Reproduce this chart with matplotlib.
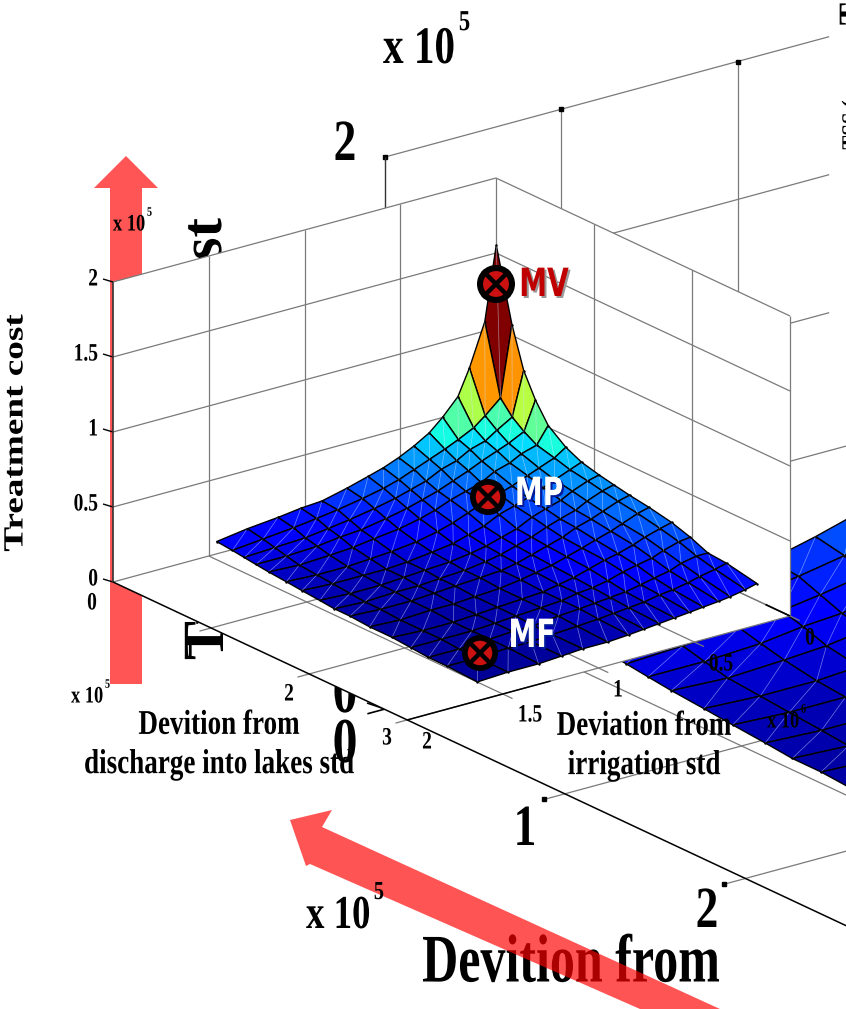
import numpy as np
import matplotlib
matplotlib.use('Agg')
import matplotlib.pyplot as plt
from matplotlib.collections import PolyCollection, LineCollection
from matplotlib.colors import to_rgb
from matplotlib.patches import Polygon, Circle
from matplotlib.transforms import Affine2D
import matplotlib.patheffects as pe

# Surface data: irrigation std deviation (x 10^5), discharge deviation (x 10^5), cost (x 10^5)
irrigation_nodes = [.06, .12, .20, .26, .34, .41, .49, .57, .65, .73, .84, .97, 1.08, 1.20, 1.36, 1.52]
discharge_nodes = [.12, .28, .40, .52, .65, .83, .99, 1.17, 1.32, 1.48, 1.68, 1.91, 2.10, 2.28, 2.47, 2.78]
cost = [
    [1.61, 1.13, .86, .70, .57, .48, .43, .40, .38, .36, .34, .31, .27, .22, .21, .17],
    [1.12, .66, .57, .51, .46, .43, .40, .38, .36, .34, .32, .29, .26, .22, .19, .15],
    [.84, .57, .51, .46, .43, .39, .36, .34, .32, .30, .28, .26, .23, .20, .17, .13],
    [.67, .51, .46, .43, .39, .36, .33, .30, .28, .27, .25, .23, .20, .17, .15, .12],
    [.56, .46, .43, .39, .36, .32, .29, .27, .25, .24, .22, .20, .18, .15, .13, .11],
    [.48, .42, .38, .35, .31, .29, .26, .24, .22, .20, .19, .18, .16, .13, .12, .10],
    [.42, .38, .35, .31, .28, .26, .23, .19, .18, .17, .16, .15, .13, .11, .10, .09],
    [.37, .34, .30, .27, .25, .22, .18, .16, .15, .14, .13, .12, .11, .10, .09, .08],
    [.33, .30, .27, .24, .21, .18, .15, .13, .12, .11, .11, .10, .10, .09, .08, .07],
    [.30, .27, .24, .21, .18, .15, .12, .11, .10, .09, .09, .08, .08, .08, .07, .06],
    [.26, .24, .21, .18, .15, .12, .10, .09, .08, .08, .07, .07, .07, .07, .06, .05],
    [.22, .21, .18, .15, .13, .10, .08, .08, .07, .07, .06, .06, .06, .05, .05, .05],
    [.21, .19, .16, .14, .11, .09, .07, .07, .06, .06, .05, .05, .05, .05, .04, .04],
    [.19, .17, .14, .12, .10, .08, .07, .06, .06, .05, .05, .04, .04, .04, .04, .03],
    [.17, .15, .13, .11, .09, .08, .07, .06, .05, .05, .04, .04, .04, .03, .03, .03],
    [.14, .13, .12, .11, .10, .09, .08, .07, .06, .06, .05, .05, .04, .03, .03, .02],
]

discharge_ticks = [0, 1, 2, 3]
irrigation_ticks = [0, .5, 1, 1.5, 2]
cost_ticks = [0, .5, 1, 1.5, 2]
cost_tick_labels = ['0', '0.5', '1', '1.5', '2']

RED = '#ff5555'
SERIF = 'Liberation Serif'
COLOR_TOP = 1.5  # cost at which the jet colours run out


class Box:
    """Fixed axonometric view of a MATLAB style 3D axes, in picture pixels."""
    def __init__(self, left, ex, ey, ez):
        self.left = np.array(left, float)
        self.ex = np.array(ex, float)   # one unit of discharge
        self.ey = np.array(ey, float)   # one unit of irrigation
        self.ez = np.array(ez, float)   # one unit of cost

    def __call__(self, x, y, z=0):
        # irrigation axis runs from 2 at the front corner to 0 at the back
        return self.left + np.multiply.outer(x, self.ex) + np.multiply.outer(2 - np.asarray(y), self.ey) \
            + np.multiply.outer(z, self.ez)


front = Box((113, 582), (98, 46), (191.5, -52), (0, -150))
back = Box((385, 709), (180.3, 84.7), (352.5, -95.5), (0, -276))


class Squeeze(pe.AbstractPathEffect):
    """The picture was resized unevenly, so its lettering is narrow. Squeeze a text about its anchor."""
    def __init__(self, anchor, sx=1.0, sy=1.0):
        self.anchor = anchor
        self.sx = sx
        self.sy = sy

    def draw_path(self, renderer, gc, tpath, affine, rgbFace=None):
        cx, cy = ax.transData.transform(self.anchor)
        t = Affine2D().translate(-cx, -cy).scale(self.sx, self.sy).translate(cx, cy)
        renderer.draw_path(gc, tpath, affine + t, rgbFace)


class SqueezedShadow(Squeeze):
    """Same squeeze, drawn as an offset copy for the MV, MP and MF tags."""
    def __init__(self, anchor, sx, shadow):
        super().__init__(anchor, sx)
        self.shadow = to_rgb(shadow)

    def draw_path(self, renderer, gc, tpath, affine, rgbFace=None):
        cx, cy = ax.transData.transform(self.anchor)
        t = Affine2D().translate(-cx, -cy).scale(self.sx, self.sy).translate(cx + 2, cy - 2)
        renderer.draw_path(gc, tpath, affine + t, self.shadow)


def draw_surface(ax, box, zorder):
    X = np.array(discharge_nodes)
    Y = np.array(irrigation_nodes)
    Z = np.array(cost)
    faces, colors, diagonals, depth = [], [], [], []
    for i in range(len(Y) - 1):
        for j in range(len(X) - 1):
            corners = [(i, j), (i + 1, j), (i + 1, j + 1), (i, j + 1)]
            pts = np.array([box(X[b], Y[a], Z[a, b]) for a, b in corners])
            faces.append(pts)
            colors.append(plt.cm.jet(Z[i, j] / COLOR_TOP))
            diagonals.append([pts[0], pts[2]])
            depth.append(box(X[j], Y[i])[1])
    order = np.argsort(depth)
    ax.add_collection(PolyCollection([faces[k] for k in order], facecolors=[colors[k] for k in order],
                                     edgecolors='black', linewidths=1.0, zorder=zorder))
    ax.add_collection(LineCollection(diagonals, colors='#cfe0ff', linewidths=0.5, alpha=0.55, zorder=zorder))
    # little dots on the mesh nodes
    nodes = np.array([box(X[b], Y[a], Z[a, b]) for a in range(len(Y)) for b in range(len(X))])
    ax.scatter(nodes[:, 0], nodes[:, 1], s=3, c='black', linewidths=0, zorder=zorder)


def seg(ax, a, b, color='#7a7a7a', lw=0.9, zorder=3):
    ax.plot([a[0], b[0]], [a[1], b[1]], color=color, lw=lw, zorder=zorder, solid_capstyle='butt')


def txt(ax, x, y, s, size, zorder=8, ha='center', va='center', rot=0, color='black', sx=0.78, sy=1.0, **kw):
    t = ax.text(x, y, s, fontsize=size, family=SERIF, fontweight='bold', ha=ha, va=va,
                rotation=rot, color=color, zorder=zorder, **kw)
    t.set_path_effects([Squeeze((x, y), sx, sy)])
    return t


def power_label(ax, x, y, size, exponent='5'):
    # "x 10^5" written the way the figure has it, left edge at x
    base = txt(ax, x, y, 'x 10', size, ha='left')
    width = base.get_window_extent(fig.canvas.get_renderer()).width * 0.78
    txt(ax, x + width + size * 0.1, y - size * 0.72, exponent, size * 0.55, ha='left')


def marker(ax, x, y, r):
    ax.add_patch(Circle((x, y), r, fc='black', ec='none', zorder=9))
    ax.add_patch(Circle((x, y), r * 0.68, fc='#cc1111', ec='none', zorder=9))
    d = r * 0.62
    ax.plot([x - d, x + d], [y - d, y + d], color='black', lw=3.2, zorder=9)
    ax.plot([x - d, x + d], [y + d, y - d], color='black', lw=3.2, zorder=9)


def tag(ax, x, y, s, color, shadow):
    t = ax.text(x, y, s, fontsize=28, family='DejaVu Sans', fontweight='bold',
                color=color, ha='center', va='center', zorder=10)
    t.set_path_effects([SqueezedShadow((x, y), 0.72, shadow), Squeeze((x, y), 0.72)])


fig = plt.figure(figsize=(8.46, 10.09), dpi=100)
ax = fig.add_axes([0, 0, 1, 1])
ax.set_xlim(0, 846)
ax.set_ylim(1009, 0)
ax.axis('off')

# Vertical red arrow, goes behind the front axes
ax.add_patch(Polygon([(110, 684), (142, 684), (142, 188), (158, 188), (126, 156), (94, 188), (110, 188)],
                     fc=RED, ec='none', zorder=1))

# ---- big axes at the back ----
for c in cost_ticks:
    if c == 0:
        continue
    end = 0.63 if c >= 1 else 0.655
    seg(ax, back(0, 2, c), back(0, 2 - 2 * end, c), zorder=2)
for y in [2, 1.5, 1]:
    seg(ax, back(0, y, 2), back(0, y, 0), zorder=2)
    p = back(0, y, 2)
    ax.plot(p[0], p[1], 's', ms=2.5, color='black', zorder=2)
seg(ax, back(0, 2, 2), back(0, 2, 0), color='#333333', zorder=2)

for d in [1, 2]:
    seg(ax, back(d, 2.06), back(d, 0.9), zorder=2)
    p = back(d, 2.06)
    ax.plot(p[0], p[1], 's', ms=2.5, color='black', zorder=2)
for y in [1.5, 1]:
    seg(ax, back(0, y), back(3, y), zorder=2)
seg(ax, back(0, 2.05), back(0, 2), color='black', lw=1.2, zorder=2)
seg(ax, (367, 703), (385, 709), color='black', lw=1.2, zorder=2)
draw_surface(ax, back, 2)
txt(ax, 345, 697, '0', 46, zorder=4)
txt(ax, 345, 747, '0', 46, zorder=4)
txt(ax, 345, 146, '2', 42)
txt(ax, 525, 831, '1', 42)
txt(ax, 707, 913, '2', 42)
power_label(ax, 383, 50, 38)
power_label(ax, 306, 917, 34)
txt(ax, 851, 125, 'TSS (', 15, rot=90, zorder=2, sx=1, sy=1)
txt(ax, 853, 14, 'T', 24, rot=90, zorder=2, sx=1, sy=1)
# the big z label only shows where it sticks out of the front axes
txt(ax, 207, 218, 'cost', 42, rot=90, va='top', zorder=4, sx=1)
txt(ax, 209, 660, 'Treatment', 42, rot=90, va='bottom', zorder=4, sx=1)

# ---- white front axes hides most of the back one ----
hull = [front(0, 2, 2), front(0, 0, 2), front(3, 0, 2), front(3, 0, 0), front(3, 2, 0), front(0, 2, 0)]
ax.add_patch(Polygon(hull, fc='white', ec='none', zorder=5))

for c in cost_ticks:
    seg(ax, front(0, 2, c), front(0, 0, c), zorder=5.1)
    seg(ax, front(0, 0, c), front(3, 0, c), zorder=5.1)
    p = front(0, 2, c)
    seg(ax, p, p + np.array([-10, -3]), color='black', lw=1.0, zorder=5.1)
    txt(ax, p[0] - 15, p[1] - 3, cost_tick_labels[cost_ticks.index(c)], 18, ha='right')
for y in [1.5, 1, .5, 0]:
    seg(ax, front(0, y, 0), front(0, y, 2), zorder=5.1)
for d in [1, 2, 3]:
    seg(ax, front(d, 0, 0), front(d, 0, 2), zorder=5.1)
seg(ax, front(0, 2, 0), front(0, 2, 2), color='#333333', lw=1.2, zorder=5.1)
for d in discharge_ticks[1:]:
    seg(ax, front(d, 2.06), front(d, 0), zorder=5.1)
for y in irrigation_ticks[:-1]:
    seg(ax, front(3.1, y), front(0, y), zorder=5.1)
# outer floor edges
seg(ax, front(0, 2), back(3, 2), color='black', lw=1.1, zorder=5.2)
seg(ax, front(3, 2), front(3, 1.25), color='black', lw=1.1, zorder=5.2)
seg(ax, front(2.75, 0), front(3, 0), color='black', lw=1.2, zorder=5.2)
draw_surface(ax, front, 5.5)

# Tick labels of the front axes
txt(ax, 92, 603, '0', 18)
txt(ax, 190, 651, '1', 18)
txt(ax, 289, 694, '2', 18)
txt(ax, 387, 738, '3', 18)
txt(ax, 427, 742, '2', 18)
txt(ax, 530, 715, '1.5', 18)
txt(ax, 618, 690, '1', 18)
txt(ax, 721, 664, '0.5', 18)
txt(ax, 810, 638, '0', 18)
power_label(ax, 767, 722, 17, '6')
power_label(ax, 113, 225, 17)
power_label(ax, 71, 697, 17)

txt(ax, 219, 745, 'Devition from\ndischarge into lakes std', 25, linespacing=1.25)
txt(ax, 644, 746, 'Deviation from\nirrigation std', 25, linespacing=1.25)
txt(ax, 16, 433, 'Treatment cost', 20, rot=90, sx=1, sy=1.34)

# Points on the surface
marker(ax, 496, 284, 19)
marker(ax, 488, 497, 18)
marker(ax, 480, 653, 18)
tag(ax, 544, 285, 'MV', '#c00000', '#9a9a9a')
tag(ax, 539, 494, 'MP', 'white', '#001a99')
tag(ax, 532, 636, 'MF', 'white', '#001a99')

# Title like label, with the diagonal red arrow laid over it
txt(ax, 571, 965, 'Devition from', 49, zorder=6, sx=0.735)
ax.add_patch(Polygon([(290, 820), (332, 810), (322, 827), (720, 1009), (640, 1009), (310, 864), (306, 866)],
                     fc=(1, 0, 0, 0.67), ec='none', zorder=7))

fig.savefig('out.png', dpi=100)
